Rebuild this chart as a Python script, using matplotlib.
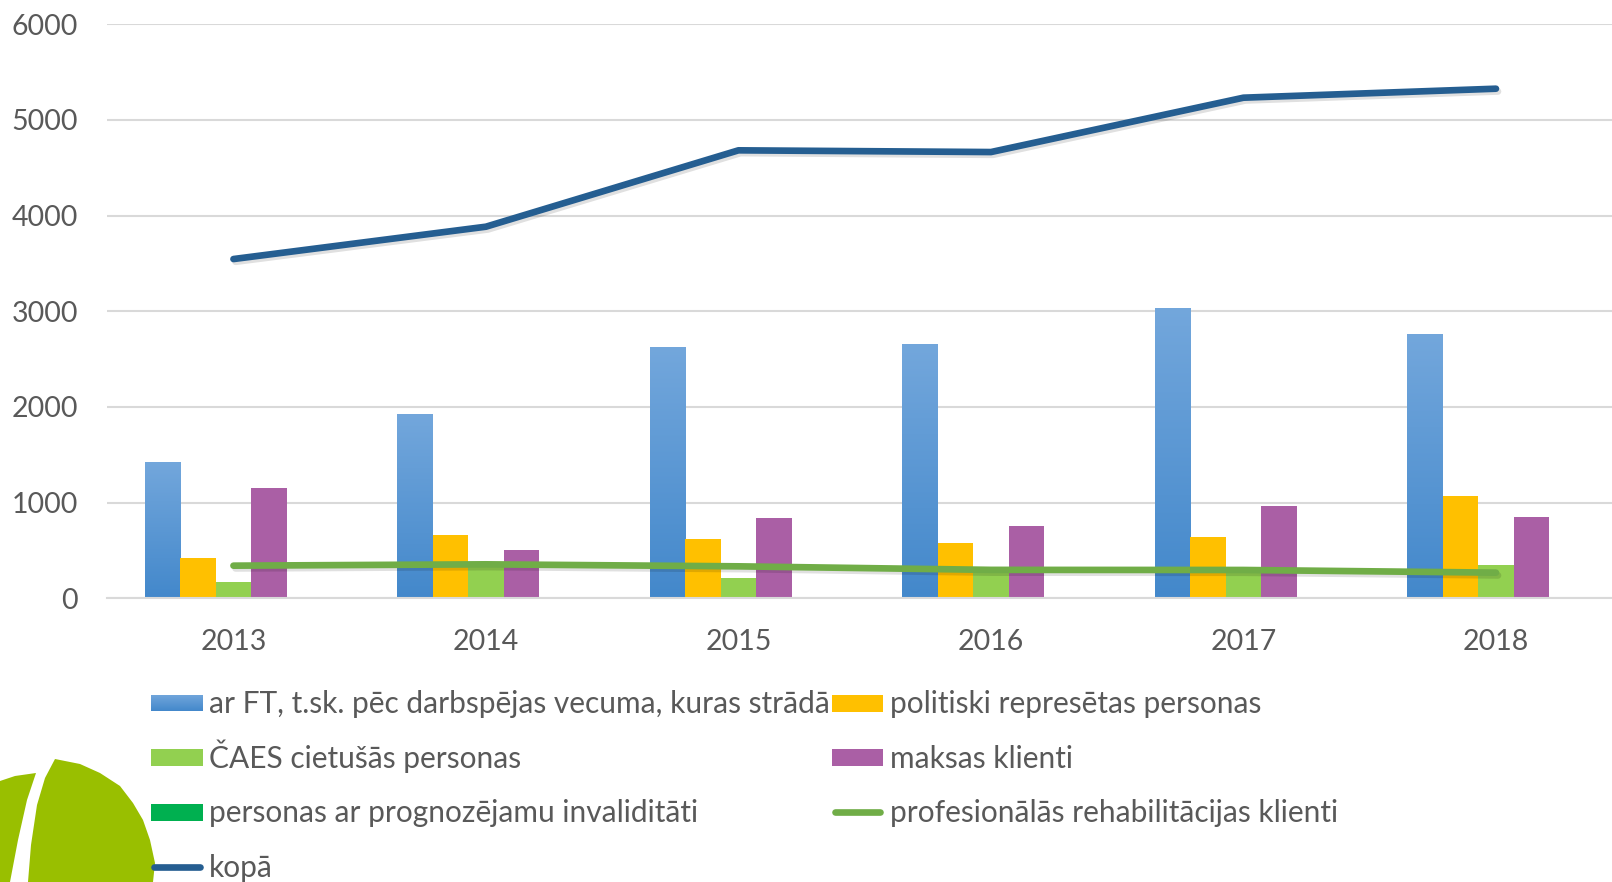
import numpy as np
import matplotlib
matplotlib.use("Agg")
import matplotlib.pyplot as plt
import matplotlib.patheffects as pe
from matplotlib.patches import Polygon, Rectangle
from matplotlib.lines import Line2D
from matplotlib.colors import LinearSegmentedColormap

years = ["2013", "2014", "2015", "2016", "2017", "2018"]
ar_ft = [1424, 1921, 2630, 2654, 3033, 2762]
politiski = [418, 658, 624, 582, 644, 1069]
caes = [174, 350, 209, 300, 295, 348]
maksas = [1156, 505, 843, 760, 964, 853]
prognozejamu = [0, 0, 0, 0, 0, 0]
prof_rehab = [341, 355, 334, 297, 296, 268]
kopa = [3545, 3883, 4681, 4663, 5231, 5325]

lab_ar_ft = "ar FT, t.sk. pēc darbspējas vecuma, kuras strādā"
lab_politiski = "politiski represētas personas"
lab_caes = "ČAES cietušās personas"
lab_maksas = "maksas klienti"
lab_prog = "personas ar prognozējamu invaliditāti"
lab_prof = "profesionālās rehabilitācijas klienti"
lab_kopa = "kopā"

C_BLUE = '#5B9BD5'
C_YEL = '#FFC000'
C_LGR = '#92D050'
C_PUR = '#AA5FA5'
C_DGR = '#00B050'
C_PROF = '#70AD47'
C_KOPA = '#255E91'

plt.rcParams['font.family'] = ['Lato', 'DejaVu Sans']
TXT = '#595959'
FS_TICK = 20.5
FS_LEG = 21.5

W, H = 1612, 882
fig = plt.figure(figsize=(W / 100, H / 100), dpi=100)
fig.patch.set_facecolor('white')

left_px, right_px = 107.2, 107.2 + 6 * 252.5
top_px, bot_px = 24.1, 598.3
ax = fig.add_axes([left_px / W, 1 - bot_px / H, (right_px - left_px) / W, (bot_px - top_px) / H])
ax.set_facecolor('none')

x = np.arange(len(years))
bw = 0.1408
series = [
    (ar_ft, C_BLUE),
    (politiski, C_YEL),
    (caes, C_LGR),
    (maksas, C_PUR),
    (prognozejamu, C_DGR),
]
blue_cmap = LinearSegmentedColormap.from_list('bg', ['#4388CB', '#73A7DC'])
grad = np.linspace(0, 1, 256).reshape(-1, 1)
for i, (vals, col) in enumerate(series):
    off = (i - 2) * bw
    if i == 0:
        bars = ax.bar(x + off, vals, width=bw, color='none', edgecolor='none', zorder=2)
        for b in bars:
            x0, y0, w_, h_ = b.get_x(), b.get_y(), b.get_width(), b.get_height()
            im = ax.imshow(grad, cmap=blue_cmap, origin='lower', aspect='auto',
                           extent=[x0, x0 + w_, y0, y0 + h_], zorder=2)
            im.set_clip_path(b)
    else:
        ax.bar(x + off, vals, width=bw, color=col, edgecolor='none', zorder=2)

shadow = [pe.SimpleLineShadow(offset=(1.5, -2), shadow_color='black', alpha=0.12), pe.Normal()]
ax.plot(x, prof_rehab, color=C_PROF, lw=4.8, solid_capstyle='round',
        solid_joinstyle='round', zorder=4, path_effects=shadow)
ax.plot(x, kopa, color=C_KOPA, lw=4.8, solid_capstyle='round',
        solid_joinstyle='round', zorder=5, path_effects=shadow)

ax.set_xlim(-0.5, 5.5)
ax.set_ylim(0, 6000)
ax.set_yticks(np.arange(0, 6001, 1000))
ax.set_xticks(x)
ax.set_xticklabels(years)
ax.grid(axis='y', color='#D9D9D9', lw=1.5, zorder=0)
ax.set_axisbelow(True)
for s in ['top', 'right', 'left']:
    ax.spines[s].set_visible(False)
ax.spines['bottom'].set_color('#D9D9D9')
ax.spines['bottom'].set_linewidth(1.5)
ax.tick_params(axis='y', length=0, pad=21, labelsize=FS_TICK, labelcolor=TXT)
ax.tick_params(axis='x', length=0, pad=22, labelsize=FS_TICK, labelcolor=TXT)

# manual legend in figure pixel coordinates (two columns, fixed rows)
def fx(v):
    return v / W

def fy(v):
    return 1 - v / H

rows = [703, 757.6, 812, 866.6]
col_x = [151, 831.6]
hlen = 51.5
tpad = 6.5
patch_h = 17
cap_half = 10.3

entries = [
    (0, 0, 'patch', C_BLUE, lab_ar_ft),
    (0, 1, 'patch', C_LGR, lab_caes),
    (0, 2, 'patch', C_DGR, lab_prog),
    (0, 3, 'line', C_KOPA, lab_kopa),
    (1, 0, 'patch', C_YEL, lab_politiski),
    (1, 1, 'patch', C_PUR, lab_maksas),
    (1, 2, 'line', C_PROF, lab_prof),
]
for c, r, kind, col, lab in entries:
    x0 = col_x[c]
    yc = rows[r]
    if kind == 'patch':
        if col == C_BLUE:
            iax = fig.add_axes([fx(x0), fy(yc + patch_h / 2), hlen / W, patch_h / H])
            iax.imshow(grad, cmap=blue_cmap, origin='lower', aspect='auto')
            iax.set_axis_off()
        else:
            fig.patches.append(Rectangle((fx(x0), fy(yc + patch_h / 2)), hlen / W, patch_h / H,
                                         transform=fig.transFigure, facecolor=col,
                                         edgecolor='none'))
    else:
        fig.lines.append(Line2D([fx(x0 + 3), fx(x0 + hlen - 3)], [fy(yc), fy(yc)],
                                transform=fig.transFigure, color=col, lw=4.8,
                                solid_capstyle='round'))
    fig.text(fx(x0 + hlen + tpad), fy(yc + cap_half), lab, fontsize=FS_LEG,
             color=TXT, ha='left', va='baseline')

# decorative logo shape, bottom-left
def px(pts):
    return [(a / W, 1 - b / H) for a, b in pts]

main_piece = [(55, 759), (80, 764), (100, 773), (120, 786), (133, 803), (143, 820),
              (150, 840), (155, 863), (153, 882), (28, 882), (31, 845), (37, 805),
              (45, 778)]
left_piece = [(0, 781), (15, 776), (36, 773), (27, 800), (18, 840), (10, 882), (0, 882)]
for pts in (main_piece, left_piece):
    fig.patches.append(Polygon(px(pts), closed=True, transform=fig.transFigure,
                               facecolor='#99BF00', edgecolor='none', zorder=0))

fig.savefig('out.png', dpi=100, facecolor='white')
